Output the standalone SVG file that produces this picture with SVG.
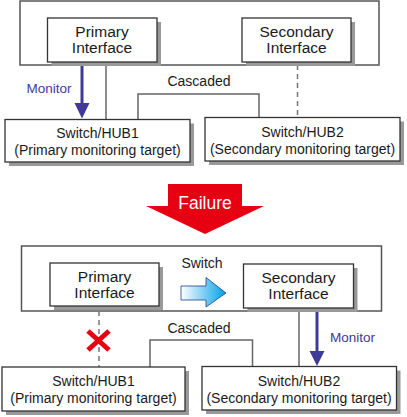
<svg xmlns="http://www.w3.org/2000/svg" width="407" height="417" viewBox="0 0 407 417">
<defs>
<style>
text{font-family:"Liberation Sans",Arial,sans-serif;fill:#1a1a1a;text-anchor:middle}
.t15{font-size:15.5px}
.t14{font-size:14px}
.mon{font-size:13.5px;fill:#3f3a9a}
.outer{fill:#fff;stroke:#555;stroke-width:1.5}
.box{fill:#fff;stroke:#333;stroke-width:1.3}
.shadow{fill:#999}
.conn{fill:none;stroke:#666;stroke-width:1.5}
.dash{fill:none;stroke:#777;stroke-width:1.5;stroke-dasharray:5 4}
.monl{stroke:#3f3a9a;stroke-width:3}
.monh{fill:#3f3a9a}
</style>
<linearGradient id="sw" x1="0" y1="0" x2="1" y2="0">
<stop offset="0" stop-color="#ffffff"/>
<stop offset="1" stop-color="#00a0e9"/>
</linearGradient>
</defs>

<g id="frame-top"><rect class="outer" x="20" y="1" width="359" height="64"/></g>
<g id="frame-bottom"><rect class="outer" x="21.5" y="246" width="360" height="65"/></g>

<g id="connectors">
<line class="conn" x1="106" y1="65" x2="106" y2="119"/>
<polyline class="conn" points="138,119 138,94 259,94 259,117"/>
<line class="dash" x1="297.5" y1="65" x2="297.5" y2="117"/>
<line class="monl" x1="82" y1="65" x2="82" y2="104"/>
<polygon class="monh" points="74.5,103 89.5,103 82,118.5"/>
<text class="mon" x="49" y="93">Monitor</text>
<text class="t14" x="199" y="86">Cascaded</text>

<line class="dash" x1="99" y1="311" x2="99" y2="367"/>
<polyline class="conn" points="150,367 150,340 252.5,340 252.5,366"/>
<line class="conn" x1="299" y1="311" x2="299" y2="366"/>
<line class="monl" x1="317" y1="312" x2="317" y2="352"/>
<polygon class="monh" points="309.5,351 324.5,351 317,366"/>
<text class="mon" x="352.5" y="342">Monitor</text>
<text class="t14" x="199" y="333">Cascaded</text>
<text class="t14" x="202" y="268">Switch</text>
<polygon points="181,286 206,286 206,277.5 226,293 206,307 206,300 181,300" fill="url(#sw)" stroke="#1e3f8c" stroke-width="0.8"/>
<g stroke="#e60012" stroke-width="5" stroke-linecap="butt">
<line x1="88" y1="331" x2="109" y2="350"/>
<line x1="109" y1="331" x2="88" y2="350"/>
</g>
</g>

<g id="failure">
<polygon points="168,184 242,184 242,206 264,206 205,234 146,206 168,206" fill="#e60012"/>
<text x="205" y="209" style="font-size:17.5px;fill:#fff">Failure</text>
</g>

<g id="primary-top">
<rect class="shadow" x="51.5" y="22" width="109.5" height="44"/>
<rect class="box" x="47.5" y="18" width="109.5" height="44"/>
<text class="t15" x="102" y="37">Primary</text>
<text class="t15" x="102" y="53">Interface</text>
</g>
<g id="secondary-top">
<rect class="shadow" x="246" y="22" width="109" height="44"/>
<rect class="box" x="242" y="18" width="109" height="44"/>
<text class="t15" x="296.5" y="37">Secondary</text>
<text class="t15" x="296.5" y="53">Interface</text>
</g>
<g id="hub1-top">
<rect class="shadow" x="9" y="123.5" width="185" height="42.5"/>
<rect class="box" x="5" y="119.5" width="185" height="42.5"/>
<text class="t14" x="97.5" y="138">Switch/HUB1</text>
<text class="t14" x="97.5" y="155">(Primary monitoring target)</text>
</g>
<g id="hub2-top">
<rect class="shadow" x="209" y="121.5" width="195" height="43.5"/>
<rect class="box" x="205" y="117.5" width="195" height="43.5"/>
<text class="t14" x="302.5" y="137">Switch/HUB2</text>
<text class="t14" x="302.5" y="154">(Secondary monitoring target)</text>
</g>

<g id="primary-bottom">
<rect class="shadow" x="54" y="267" width="109" height="43"/>
<rect class="box" x="50" y="263" width="109" height="43"/>
<text class="t15" x="104.5" y="282">Primary</text>
<text class="t15" x="104.5" y="298">Interface</text>
</g>
<g id="secondary-bottom">
<rect class="shadow" x="247.5" y="268" width="110" height="44"/>
<rect class="box" x="243.5" y="264" width="110" height="44"/>
<text class="t15" x="298.5" y="283">Secondary</text>
<text class="t15" x="298.5" y="299">Interface</text>
</g>
<g id="hub1-bottom">
<rect class="shadow" x="6" y="371" width="183" height="44"/>
<rect class="box" x="2" y="367" width="183" height="44"/>
<text class="t14" x="93.5" y="386">Switch/HUB1</text>
<text class="t14" x="93.5" y="403">(Primary monitoring target)</text>
</g>
<g id="hub2-bottom">
<rect class="shadow" x="206" y="370.5" width="194.5" height="43.5"/>
<rect class="box" x="202" y="366.5" width="194.5" height="43.5"/>
<text class="t14" x="299" y="386">Switch/HUB2</text>
<text class="t14" x="299" y="403">(Secondary monitoring target)</text>
</g>
</svg>
